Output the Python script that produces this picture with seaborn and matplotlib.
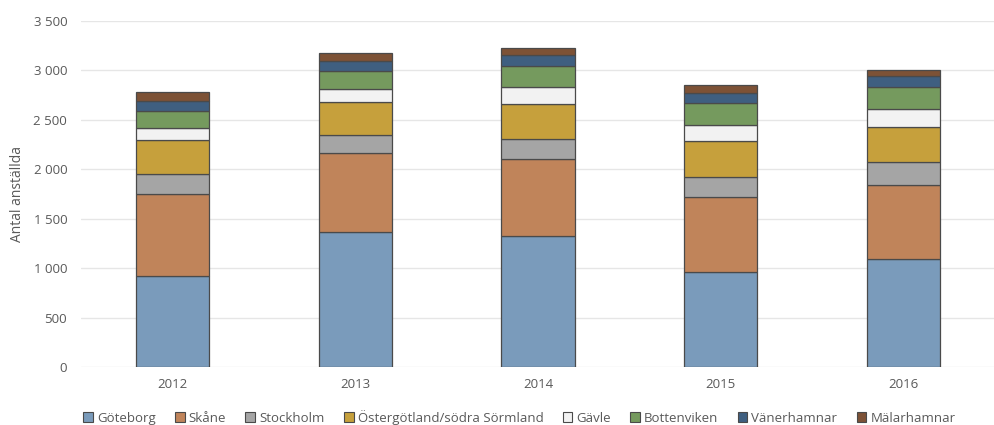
import matplotlib
matplotlib.use("Agg")
import matplotlib.pyplot as plt
from matplotlib.patches import Patch
from matplotlib.ticker import FuncFormatter
import numpy as np
import pandas as pd
import seaborn as sns

years = ["2012", "2013", "2014", "2015", "2016"]

regions = ["Göteborg", "Skåne", "Stockholm", "Östergötland/södra Sörmland",
           "Gävle", "Bottenviken", "Vänerhamnar", "Mälarhamnar"]

goteborg = [920, 1362, 1325, 958, 1089]
skane = [827, 802, 776, 765, 755]
stockholm = [205, 179, 205, 195, 226]
ostergotland = [344, 337, 354, 368, 354]
gavle = [118, 129, 172, 162, 182]
bottenviken = [175, 185, 215, 225, 223]
vanerhamnar = [104, 101, 109, 102, 114]
malarhamnar = [85, 84, 67, 77, 61]

series = [goteborg, skane, stockholm, ostergotland,
          gavle, bottenviken, vanerhamnar, malarhamnar]

colors = ["#7A9BBB", "#C0845A", "#A5A5A5", "#C6A03C",
          "#F2F2F2", "#759A5E", "#3F5F80", "#7D5236"]

df = pd.DataFrame({"År": years})
for name, vals in zip(regions, series):
    df[name] = vals

sns.set_theme(style="white")
plt.rcParams["font.family"] = ["Open Sans", "DejaVu Sans"]

fig = plt.figure(figsize=(9.95, 4.25), dpi=100)
ax = fig.add_axes([0.0815, 0.1365, 0.9185, 0.8141])

edge = "#4A4A4A"
bottom = np.zeros(len(years))
for name, col in zip(regions, colors):
    sns.barplot(data=df, x="År", y=name, bottom=bottom, color=col,
                width=0.4, edgecolor=edge, linewidth=0.9, saturation=1,
                ax=ax)
    bottom = bottom + df[name].to_numpy()

ax.set_ylim(0, 3500)
ax.set_xlim(-0.5, 4.5)
ax.set_yticks(np.arange(0, 3501, 500))
ax.yaxis.set_major_formatter(
    FuncFormatter(lambda v, p: f"{int(v):,}".replace(",", " ")))
ax.grid(axis="y", color="#E6E6E6", linewidth=1)
ax.set_axisbelow(True)
for s in ax.spines.values():
    s.set_visible(False)
ax.tick_params(axis="both", length=0, labelsize=9.5, labelcolor="#595959")
ax.tick_params(axis="y", pad=10)
ax.tick_params(axis="x", pad=8)
ax.set_xlabel("")
ax.set_ylabel("Antal anställda", fontsize=10, color="#595959", labelpad=6)

handles = [Patch(facecolor=c, edgecolor=edge, linewidth=0.8, label=r)
           for r, c in zip(regions, colors)]
fig.legend(handles=handles, loc="center", ncol=8, frameon=False,
           bbox_to_anchor=(0.522, 0.018), fontsize=9.5,
           handlelength=0.75, handleheight=0.75, handletextpad=0.3,
           columnspacing=1.45, labelcolor="#595959")

fig.savefig("out.png", dpi=100)
